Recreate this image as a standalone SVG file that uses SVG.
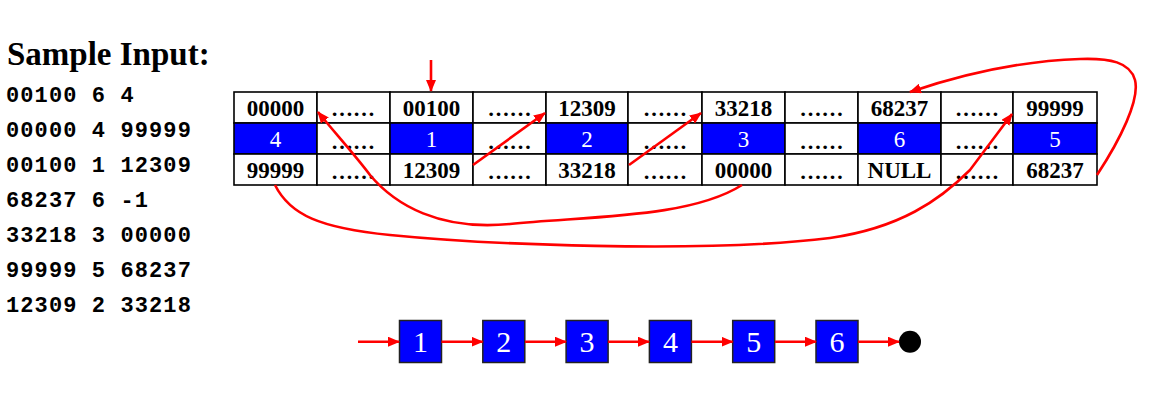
<svg xmlns="http://www.w3.org/2000/svg" width="1149" height="409" viewBox="0 0 1149 409">
<style>
.title{font-family:"Liberation Serif","DejaVu Serif",serif;font-weight:bold;font-size:33px;fill:#000}
.mono{font-family:"Liberation Mono",monospace;font-weight:bold;font-size:22px;letter-spacing:1.1px;fill:#000}
.cell{fill:#fff;stroke:#000;stroke-width:1.6}
.blue{fill:#0000ff;stroke:#000;stroke-width:1.6}
.num{font-family:"Liberation Serif","DejaVu Serif",serif;font-weight:bold;font-size:23px;fill:#000;text-anchor:middle}
.wnum{font-family:"Liberation Serif","DejaVu Serif",serif;font-size:23px;fill:#fff;text-anchor:middle}
.dots{font-family:"Liberation Serif","DejaVu Serif",serif;font-weight:bold;font-size:22px;fill:#000;text-anchor:middle}
.box{fill:#0000ff;stroke:#222;stroke-width:1.5}
.bnum{font-family:"Liberation Serif","DejaVu Serif",serif;font-size:30px;fill:#fff;text-anchor:middle}
.arr{fill:none;stroke:#ff0000;stroke-width:2.6;marker-end:url(#ah)}
</style>
<defs>
<marker id="ah" viewBox="0 0 12 10" refX="11" refY="5" markerWidth="12" markerHeight="10" markerUnits="userSpaceOnUse" orient="auto">
<path d="M0,0 L12,5 L0,10 z" fill="#ff0000"/>
</marker>
</defs>
<rect width="1149" height="409" fill="#fff"/>
<g id="sample-input">
<text class="title" x="7" y="65">Sample Input:</text>
<text class="mono" x="6" y="102">00100 6 4</text>
<text class="mono" x="6" y="137">00000 4 99999</text>
<text class="mono" x="6" y="172">00100 1 12309</text>
<text class="mono" x="6" y="207">68237 6 -1</text>
<text class="mono" x="6" y="242">33218 3 00000</text>
<text class="mono" x="6" y="277">99999 5 68237</text>
<text class="mono" x="6" y="312">12309 2 33218</text>
</g>
<g id="table">
<g id="col-00000">
<rect class="cell" x="234" y="92" width="83" height="31"/>
<rect class="blue" x="234" y="123" width="83" height="31"/>
<rect class="cell" x="234" y="154" width="83" height="31"/>
<text class="num" x="275.5" y="116">00000</text>
<text class="wnum" x="275.5" y="147">4</text>
<text class="num" x="275.5" y="178">99999</text>
</g>
<g id="col-dots1">
<rect class="cell" x="317" y="92" width="73" height="31"/>
<rect class="cell" x="317" y="123" width="73" height="31"/>
<rect class="cell" x="317" y="154" width="73" height="31"/>
<text class="dots" x="353" y="116">……</text>
<text class="dots" x="353" y="149">……</text>
<text class="dots" x="353" y="179">……</text>
</g>
<g id="col-00100">
<rect class="cell" x="390" y="92" width="83" height="31"/>
<rect class="blue" x="390" y="123" width="83" height="31"/>
<rect class="cell" x="390" y="154" width="83" height="31"/>
<text class="num" x="431.5" y="116">00100</text>
<text class="wnum" x="431.5" y="147">1</text>
<text class="num" x="431.5" y="178">12309</text>
</g>
<g id="col-dots2">
<rect class="cell" x="473" y="92" width="73" height="31"/>
<rect class="cell" x="473" y="123" width="73" height="31"/>
<rect class="cell" x="473" y="154" width="73" height="31"/>
<text class="dots" x="509.5" y="116">……</text>
<text class="dots" x="509.5" y="149">……</text>
<text class="dots" x="509.5" y="179">……</text>
</g>
<g id="col-12309">
<rect class="cell" x="546" y="92" width="82" height="31"/>
<rect class="blue" x="546" y="123" width="82" height="31"/>
<rect class="cell" x="546" y="154" width="82" height="31"/>
<text class="num" x="587" y="116">12309</text>
<text class="wnum" x="587" y="147">2</text>
<text class="num" x="587" y="178">33218</text>
</g>
<g id="col-dots3">
<rect class="cell" x="628" y="92" width="74" height="31"/>
<rect class="cell" x="628" y="123" width="74" height="31"/>
<rect class="cell" x="628" y="154" width="74" height="31"/>
<text class="dots" x="665" y="116">……</text>
<text class="dots" x="665" y="149">……</text>
<text class="dots" x="665" y="179">……</text>
</g>
<g id="col-33218">
<rect class="cell" x="702" y="92" width="83" height="31"/>
<rect class="blue" x="702" y="123" width="83" height="31"/>
<rect class="cell" x="702" y="154" width="83" height="31"/>
<text class="num" x="743.5" y="116">33218</text>
<text class="wnum" x="743.5" y="147">3</text>
<text class="num" x="743.5" y="178">00000</text>
</g>
<g id="col-dots4">
<rect class="cell" x="785" y="92" width="73" height="31"/>
<rect class="cell" x="785" y="123" width="73" height="31"/>
<rect class="cell" x="785" y="154" width="73" height="31"/>
<text class="dots" x="821.5" y="116">……</text>
<text class="dots" x="821.5" y="149">……</text>
<text class="dots" x="821.5" y="179">……</text>
</g>
<g id="col-68237">
<rect class="cell" x="858" y="92" width="83" height="31"/>
<rect class="blue" x="858" y="123" width="83" height="31"/>
<rect class="cell" x="858" y="154" width="83" height="31"/>
<text class="num" x="899.5" y="116">68237</text>
<text class="wnum" x="899.5" y="147">6</text>
<text class="num" x="899.5" y="178">NULL</text>
</g>
<g id="col-dots5">
<rect class="cell" x="941" y="92" width="72" height="31"/>
<rect class="cell" x="941" y="123" width="72" height="31"/>
<rect class="cell" x="941" y="154" width="72" height="31"/>
<text class="dots" x="977" y="116">……</text>
<text class="dots" x="977" y="149">……</text>
<text class="dots" x="977" y="179">……</text>
</g>
<g id="col-99999">
<rect class="cell" x="1013" y="92" width="84" height="31"/>
<rect class="blue" x="1013" y="123" width="84" height="31"/>
<rect class="cell" x="1013" y="154" width="84" height="31"/>
<text class="num" x="1055" y="116">99999</text>
<text class="wnum" x="1055" y="147">5</text>
<text class="num" x="1055" y="178">68237</text>
</g>
</g>
<g id="chain">
<g id="n1"><rect class="box" x="399.5" y="320.5" width="42" height="42"/><text class="bnum" x="420.5" y="352">1</text></g>
<g id="n2"><rect class="box" x="482.8" y="320.5" width="42" height="42"/><text class="bnum" x="503.8" y="352">2</text></g>
<g id="n3"><rect class="box" x="566.1" y="320.5" width="42" height="42"/><text class="bnum" x="587.1" y="352">3</text></g>
<g id="n4"><rect class="box" x="649.4" y="320.5" width="42" height="42"/><text class="bnum" x="670.4" y="352">4</text></g>
<g id="n5"><rect class="box" x="732.7" y="320.5" width="42" height="42"/><text class="bnum" x="753.7" y="352">5</text></g>
<g id="n6"><rect class="box" x="816" y="320.5" width="42" height="42"/><text class="bnum" x="837" y="352">6</text></g>
<g id="null-end"><circle cx="910" cy="341.7" r="11" fill="#000"/></g>
</g>
<g id="connectors">
<path class="arr" d="M431,60 L431,91"/>
<path class="arr" d="M473,165 L545,113"/>
<path class="arr" d="M629,165 L701,113"/>
<path class="arr" d="M742,185 C690,218 590,216 510,224 C440,231 395,205 370,175 C355,155 335,133 318,112"/>
<path class="arr" d="M275,185 C290,215 320,228 390,235 C480,244 700,254 830,238 C900,228 940,200 970,170 C985,150 1000,130 1012,114"/>
<path class="arr" d="M1097,175 C1120,140 1140,100 1135,80 C1130,62 1110,58 1080,59 C1020,61 960,75 910,92"/>
<path class="arr" d="M358,341.7 L399,341.7"/>
<path class="arr" d="M441.5,341.7 L482.5,341.7"/>
<path class="arr" d="M525,341.7 L566,341.7"/>
<path class="arr" d="M608,341.7 L649,341.7"/>
<path class="arr" d="M691.5,341.7 L732.5,341.7"/>
<path class="arr" d="M775,341.7 L816,341.7"/>
<path class="arr" d="M858,341.7 L899,341.7"/>
</g>
</svg>
